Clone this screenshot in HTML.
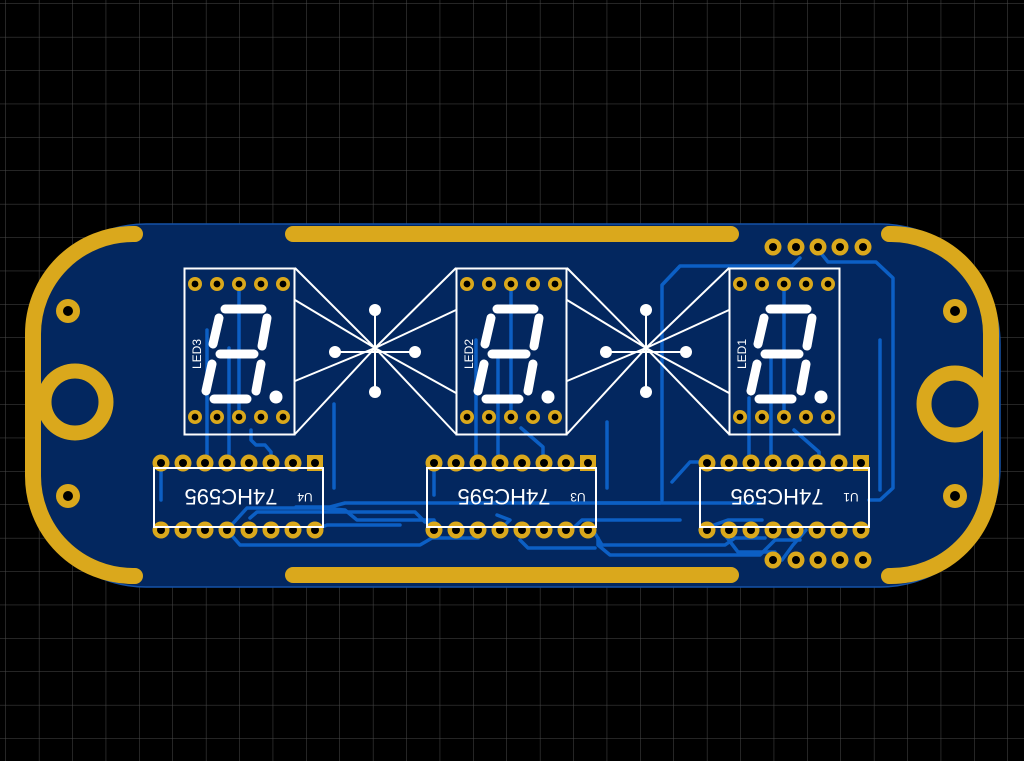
<!DOCTYPE html>
<html><head><style>html,body{margin:0;padding:0;background:#000;width:1024px;height:761px;overflow:hidden}</style></head>
<body>
<svg width="1024" height="761" viewBox="0 0 1024 761" xmlns="http://www.w3.org/2000/svg" font-family="Liberation Sans, sans-serif">
<defs>
<pattern id="grid" width="33.4" height="33.4" patternUnits="userSpaceOnUse" x="6" y="4">
<path d="M33.4 0V33.4M0 33.4H33.4" stroke="#4a4a4a" stroke-width="1" fill="none"/>
</pattern>
<g id="digit" fill="none" stroke="#fff" stroke-width="9" stroke-linecap="round">
<line x1="41" y1="41" x2="78" y2="41"/>
<line x1="35" y1="50" x2="29" y2="76"/>
<line x1="83" y1="50" x2="78" y2="78"/>
<line x1="36" y1="86" x2="70" y2="86"/>
<line x1="28" y1="96" x2="22" y2="123"/>
<line x1="77" y1="96" x2="72" y2="123"/>
<line x1="30" y1="131" x2="63" y2="131"/>
<circle cx="92" cy="129" r="6.5" fill="#fff" stroke="none"/>
<rect x="0.5" y="0.5" width="110" height="166" stroke-width="2" stroke-linecap="butt"/>
</g>
<g id="pin"><circle r="7" fill="#daa81c"/><circle r="3.4" fill="#000"/></g>
<g id="ipin"><circle r="8.5" fill="#daa81c"/><circle r="4" fill="#000"/></g>
</defs>
<rect width="1024" height="761" fill="#000"/>
<rect width="1024" height="761" fill="url(#grid)"/>
<path d="M146 224 H880 A120 120 0 0 1 1000 344 V467 A120 120 0 0 1 880 587 H146 A120 120 0 0 1 26 467 V344 A120 120 0 0 1 146 224Z" fill="#03275f" stroke="#1552a8" stroke-width="1.5"/>
<g fill="none" stroke="#0c5fc4" stroke-width="3.5" stroke-linecap="round" stroke-linejoin="round">
<path d="M239 284 V417"/><path d="M511 284 V417"/><path d="M784 284 V417"/>
<path d="M207 330 V463"/><path d="M229 348 V455 L227 463"/>
<path d="M251 430 V440 L256 445 H265 L271 452 V463"/>
<path d="M334 404 V488"/><path d="M607 422 V488"/><path d="M880 340 V490"/>
<path d="M161 463 V500"/><path d="M434 463 V495"/>
<path d="M476 340 V463"/><path d="M498 352 V463"/><path d="M521 428 L543 447 V463"/>
<path d="M749 398 V463"/><path d="M771 352 V463"/><path d="M794 430 L819 452 V463"/>
<path d="M227 530 L247 508 H320 L345 510 L357 520 H434"/>
<path d="M296 507 H330 L345 503 H760"/>
<path d="M250 518 L257 512 H415 L425 522 H435"/>
<path d="M227 530 L240 545 H420 L432 538 H478"/>
<path d="M499 530 L510 520 L497 515"/>
<path d="M571 530 L582 520 H680"/>
<path d="M315 530 L327 525 H400"/>
<path d="M593 530 L602 545 H725 L735 538 H765"/>
<path d="M598 538 V545 L610 555 H760 L775 540 H800"/>
<path d="M520 540 L528 548 H595"/>
<path d="M725 535 L738 552 H775"/>
<path d="M672 482 L690 462 H700"/>
<path d="M662 500 V285 L680 266 H792 L800 258"/>
<path d="M816 247 L828 262 H876 L893 278 V488 L880 500 H869"/>
<path d="M782 560 L793 545 L806 530"/>
<path d="M700 530 L728 520 L762 520"/>
<path d="M596 503 H660"/>
</g>
<g fill="none" stroke="#daa81c" stroke-linecap="round">
<path d="M135 234 H133 A100 100 0 0 0 33 334 V476 A100 100 0 0 0 133 576 H135" stroke-width="16"/>
<path d="M889 234 H891 A100 100 0 0 1 991 334 V476 A100 100 0 0 1 891 576 H889" stroke-width="16"/>
<circle cx="75" cy="402" r="31" stroke-width="15"/>
<circle cx="955" cy="404" r="31" stroke-width="15"/>
<line x1="293" y1="234" x2="731" y2="234" stroke-width="16"/>
<line x1="293" y1="575" x2="731" y2="575" stroke-width="16"/>
</g>
<g fill="#daa81c"><circle cx="68" cy="311" r="12"/><circle cx="68" cy="496" r="12"/><circle cx="955" cy="311" r="12"/><circle cx="955" cy="496" r="12"/></g>
<g fill="#000"><circle cx="68" cy="311" r="5"/><circle cx="68" cy="496" r="5"/><circle cx="955" cy="311" r="5"/><circle cx="955" cy="496" r="5"/></g>
<g>
<use href="#ipin" x="773" y="247"/><use href="#ipin" x="796" y="247"/><use href="#ipin" x="818" y="247"/><use href="#ipin" x="840" y="247"/><use href="#ipin" x="863" y="247"/>
<use href="#ipin" x="773" y="560"/><use href="#ipin" x="796" y="560"/><use href="#ipin" x="818" y="560"/><use href="#ipin" x="840" y="560"/><use href="#ipin" x="863" y="560"/>
</g>
<g stroke="#fff" stroke-width="2" fill="none">
<path d="M295 268 L375 348 L456 268 M295 300 L375 348 L456 310 M295 381 L375 348 L456 393 M295 434 L375 348 L456 434"/>
<path d="M567 268 L646 348 L729 268 M567 300 L646 348 L729 310 M567 381 L646 348 L729 393 M567 434 L646 348 L729 434"/>
<path d="M335 352 H415 M375 310 V392 M606 352 H686 M646 310 V392"/>
</g>
<g fill="#fff">
<circle cx="335" cy="352" r="6"/><circle cx="415" cy="352" r="6"/><circle cx="375" cy="310" r="6"/><circle cx="375" cy="392" r="6"/>
<circle cx="606" cy="352" r="6"/><circle cx="686" cy="352" r="6"/><circle cx="646" cy="310" r="6"/><circle cx="646" cy="392" r="6"/>
</g>
<g transform="translate(184,268)">
<use href="#digit"/>
<use href="#pin" x="11" y="16"/><use href="#pin" x="33" y="16"/><use href="#pin" x="55" y="16"/><use href="#pin" x="77" y="16"/><use href="#pin" x="99" y="16"/>
<use href="#pin" x="11" y="149"/><use href="#pin" x="33" y="149"/><use href="#pin" x="55" y="149"/><use href="#pin" x="77" y="149"/><use href="#pin" x="99" y="149"/>
<text transform="translate(17,101) rotate(-90)" fill="#fff" font-size="12">LED3</text>
</g>
<g transform="translate(456,268)">
<use href="#digit"/>
<use href="#pin" x="11" y="16"/><use href="#pin" x="33" y="16"/><use href="#pin" x="55" y="16"/><use href="#pin" x="77" y="16"/><use href="#pin" x="99" y="16"/>
<use href="#pin" x="11" y="149"/><use href="#pin" x="33" y="149"/><use href="#pin" x="55" y="149"/><use href="#pin" x="77" y="149"/><use href="#pin" x="99" y="149"/>
<text transform="translate(17,101) rotate(-90)" fill="#fff" font-size="12">LED2</text>
</g>
<g transform="translate(729,268)">
<use href="#digit"/>
<use href="#pin" x="11" y="16"/><use href="#pin" x="33" y="16"/><use href="#pin" x="55" y="16"/><use href="#pin" x="77" y="16"/><use href="#pin" x="99" y="16"/>
<use href="#pin" x="11" y="149"/><use href="#pin" x="33" y="149"/><use href="#pin" x="55" y="149"/><use href="#pin" x="77" y="149"/><use href="#pin" x="99" y="149"/>
<text transform="translate(17,101) rotate(-90)" fill="#fff" font-size="12">LED1</text>
</g>
<g transform="translate(154,463)">
<use href="#ipin" x="7" y="0"/><use href="#ipin" x="29" y="0"/><use href="#ipin" x="51" y="0"/><use href="#ipin" x="73" y="0"/><use href="#ipin" x="95" y="0"/><use href="#ipin" x="117" y="0"/><use href="#ipin" x="139" y="0"/>
<rect x="153" y="-8" width="16" height="16" fill="#daa81c"/><circle cx="161" cy="0" r="4" fill="#000"/>
<use href="#ipin" x="7" y="67"/><use href="#ipin" x="29" y="67"/><use href="#ipin" x="51" y="67"/><use href="#ipin" x="73" y="67"/><use href="#ipin" x="95" y="67"/><use href="#ipin" x="117" y="67"/><use href="#ipin" x="139" y="67"/><use href="#ipin" x="161" y="67"/>
<rect x="0" y="5" width="169" height="59" fill="none" stroke="#fff" stroke-width="2"/>
<text transform="translate(77,26) rotate(180)" fill="#fff" font-size="22" text-anchor="middle">74HC595</text>
<text transform="translate(151,30) rotate(180)" fill="#fff" font-size="12" text-anchor="middle">U4</text>
</g>
<g transform="translate(427,463)">
<use href="#ipin" x="7" y="0"/><use href="#ipin" x="29" y="0"/><use href="#ipin" x="51" y="0"/><use href="#ipin" x="73" y="0"/><use href="#ipin" x="95" y="0"/><use href="#ipin" x="117" y="0"/><use href="#ipin" x="139" y="0"/>
<rect x="153" y="-8" width="16" height="16" fill="#daa81c"/><circle cx="161" cy="0" r="4" fill="#000"/>
<use href="#ipin" x="7" y="67"/><use href="#ipin" x="29" y="67"/><use href="#ipin" x="51" y="67"/><use href="#ipin" x="73" y="67"/><use href="#ipin" x="95" y="67"/><use href="#ipin" x="117" y="67"/><use href="#ipin" x="139" y="67"/><use href="#ipin" x="161" y="67"/>
<rect x="0" y="5" width="169" height="59" fill="none" stroke="#fff" stroke-width="2"/>
<text transform="translate(77,26) rotate(180)" fill="#fff" font-size="22" text-anchor="middle">74HC595</text>
<text transform="translate(151,30) rotate(180)" fill="#fff" font-size="12" text-anchor="middle">U3</text>
</g>
<g transform="translate(700,463)">
<use href="#ipin" x="7" y="0"/><use href="#ipin" x="29" y="0"/><use href="#ipin" x="51" y="0"/><use href="#ipin" x="73" y="0"/><use href="#ipin" x="95" y="0"/><use href="#ipin" x="117" y="0"/><use href="#ipin" x="139" y="0"/>
<rect x="153" y="-8" width="16" height="16" fill="#daa81c"/><circle cx="161" cy="0" r="4" fill="#000"/>
<use href="#ipin" x="7" y="67"/><use href="#ipin" x="29" y="67"/><use href="#ipin" x="51" y="67"/><use href="#ipin" x="73" y="67"/><use href="#ipin" x="95" y="67"/><use href="#ipin" x="117" y="67"/><use href="#ipin" x="139" y="67"/><use href="#ipin" x="161" y="67"/>
<rect x="0" y="5" width="169" height="59" fill="none" stroke="#fff" stroke-width="2"/>
<text transform="translate(77,26) rotate(180)" fill="#fff" font-size="22" text-anchor="middle">74HC595</text>
<text transform="translate(151,30) rotate(180)" fill="#fff" font-size="12" text-anchor="middle">U1</text>
</g>
</svg>
</body></html>
